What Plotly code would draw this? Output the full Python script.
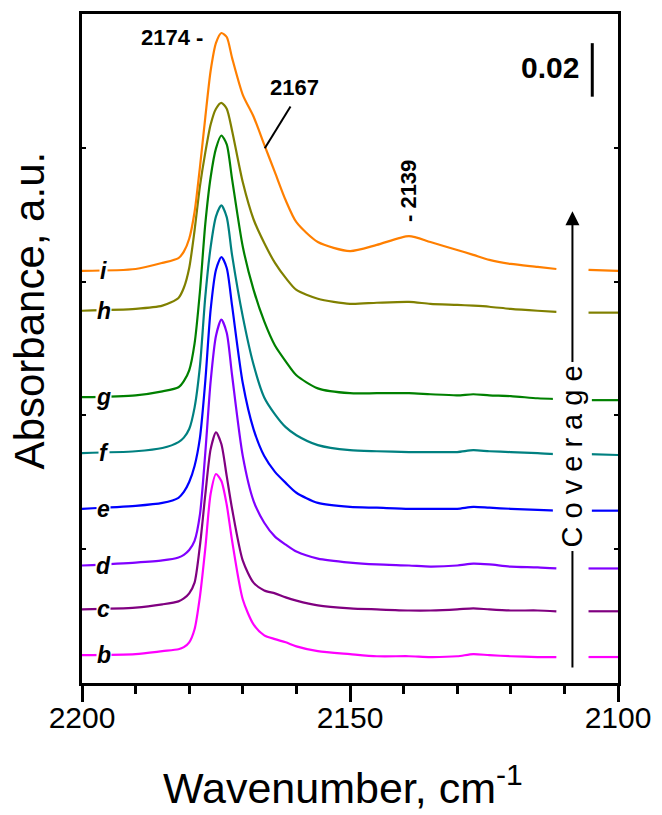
import plotly.graph_objects as go

# Wavenumber grid (cm-1); the region between 2111.5 and 2105.5 is left blank
wavenumber = [2200, 2190, 2185, 2182, 2181, 2180, 2179, 2178, 2177, 2176, 2175,
              2174, 2173, 2172, 2170, 2168, 2166, 2164, 2162, 2160, 2156, 2150,
              2145, 2139, 2135, 2130, 2127, 2124, 2120, 2115, 2111.5, 2105.5, 2100]
gap_after = 31  # index where the spectra are interrupted

# Spectrum labels (increasing CO coverage b -> i) and vertical stacking offsets
labels = ["b", "c", "d", "e", "f", "g", "h", "i"]
offsets = [0.0104, 0.0275, 0.0439, 0.0651, 0.0859, 0.1068, 0.1391, 0.1540]
colors = ["#FF00FF", "#800080", "#8000FF", "#0000FF", "#008080", "#008000",
          "#808000", "#FF7F00"]

# Absorbance above the 2200 cm-1 level for each spectrum
spec_b = [0, 0.0004, 0.0015, 0.0022, 0.0030, 0.0048, 0.0097, 0.0219, 0.0398, 0.0603,
          0.0677, 0.0651, 0.0562, 0.0428, 0.0208, 0.0115, 0.0074, 0.0060, 0.0048, 0.0033,
          0.0015, 0.0004, -0.0004, -0.0004, -0.0007, -0.0004, 0.0004, 0.0, -0.0004,
          -0.0007, -0.0007, -0.0007, -0.0007]
spec_c = [0, 0.0007, 0.0019, 0.0030, 0.0041, 0.0060, 0.0100, 0.0238, 0.0428, 0.0599,
          0.0662, 0.0618, 0.0498, 0.0376, 0.0182, 0.0100, 0.0071, 0.0060, 0.0045, 0.0033,
          0.0015, 0.0004, 0.0, -0.0004, -0.0004, 0.0, 0.0004, 0.0, -0.0004,
          -0.0004, -0.0007, -0.0007, -0.0007]
spec_d = [0, 0.0011, 0.0019, 0.0030, 0.0040, 0.0058, 0.0092, 0.0190, 0.0420, 0.0688,
          0.0859, 0.0919, 0.0870, 0.0711, 0.0409, 0.0242, 0.0160, 0.0108, 0.0078, 0.0052,
          0.0026, 0.0011, 0.0004, 0.0, -0.0004, 0.0, 0.0007, 0.0004, -0.0004,
          -0.0007, -0.0011, -0.0011, -0.0011]
spec_e = [0, 0.0011, 0.0022, 0.0041, 0.0063, 0.0100, 0.0160, 0.0265, 0.0476, 0.0744,
          0.0893, 0.0941, 0.0900, 0.0759, 0.0469, 0.0298, 0.0197, 0.0138, 0.0097, 0.0060,
          0.0022, 0.0007, 0.0004, 0.0, 0.0, 0.0, 0.0007, 0.0004, 0.0,
          -0.0004, -0.0007, -0.0007, -0.0007]
spec_f = [0, 0.0007, 0.0019, 0.0041, 0.0058, 0.0090, 0.0170, 0.0324, 0.0584, 0.0770,
          0.0885, 0.0926, 0.0882, 0.0740, 0.0510, 0.0331, 0.0208, 0.0145, 0.0097, 0.0067,
          0.0030, 0.0011, 0.0007, 0.0004, 0.0004, 0.0004, 0.0011, 0.0007, 0.0004,
          0.0, -0.0004, -0.0004, -0.0007]
spec_g = [0, 0.0007, 0.0022, 0.0037, 0.0060, 0.0100, 0.0200, 0.0394, 0.0647, 0.0822,
          0.0930, 0.0978, 0.0945, 0.0815, 0.0562, 0.0402, 0.0283, 0.0193, 0.0134, 0.0082,
          0.0033, 0.0015, 0.0015, 0.0015, 0.0011, 0.0007, 0.0011, 0.0007, 0.0004,
          -0.0004, -0.0007, -0.0011, -0.0011]
spec_h = [0, 0.0007, 0.0019, 0.0048, 0.0086, 0.0160, 0.0300, 0.0465, 0.0591, 0.0696,
          0.0755, 0.0777, 0.0755, 0.0673, 0.0480, 0.0342, 0.0253, 0.0179, 0.0123, 0.0078,
          0.0045, 0.0026, 0.0030, 0.0033, 0.0026, 0.0022, 0.0019, 0.0015, 0.0007,
          0.0, -0.0004, -0.0007, -0.0007]
spec_i = [0, 0.0007, 0.0030, 0.0048, 0.0072, 0.0120, 0.0220, 0.0387, 0.0573, 0.0748,
          0.0852, 0.0889, 0.0874, 0.0796, 0.0658, 0.0577, 0.0472, 0.0368, 0.0264, 0.0182,
          0.0108, 0.0074, 0.0097, 0.0130, 0.0108, 0.0078, 0.0060, 0.0041, 0.0026,
          0.0015, 0.0007, 0.0004, 0.0]
spectra = [spec_b, spec_c, spec_d, spec_e, spec_f, spec_g, spec_h, spec_i]

# Band positions marked on the top spectrum
band_main, band_shoulder, band_weak = 2174, 2167, 2139
scale_bar = 0.02

FONT = "Arial, 'Liberation Sans', sans-serif"

fig = go.Figure()

x_plot = wavenumber[:gap_after] + [None] + wavenumber[gap_after:]
for lab, off, col, spec in zip(labels, offsets, colors, spectra):
    y = [v + off for v in spec]
    y_plot = y[:gap_after] + [None] + y[gap_after:]
    fig.add_trace(go.Scatter(
        x=x_plot, y=y_plot, mode="lines", name=lab,
        line=dict(color=col, width=2.2, shape="spline", smoothing=0.7),
        connectgaps=False, showlegend=False, hoverinfo="skip",
    ))

annotations = []
# curve letters sitting on each baseline
for lab, off in zip(labels, offsets):
    annotations.append(dict(
        x=2195.9, y=off, xref="x", yref="y", text=f"<b><i>{lab}</i></b>",
        showarrow=False, font=dict(family=FONT, size=23, color="black"),
        bgcolor="white", borderpad=0, xanchor="center", yanchor="middle"))

annotations += [
    dict(x=band_main + 3.0, y=0.2411, xref="x", yref="y", text=f"<b>{band_main} -</b>",
         showarrow=False, xanchor="right", yanchor="middle",
         font=dict(family=FONT, size=22, color="black")),
    dict(x=band_shoulder - 6.6, y=0.2225, xref="x", yref="y", text=f"<b>{band_shoulder}</b>",
         showarrow=False, xanchor="center", yanchor="middle",
         font=dict(family=FONT, size=22, color="black")),
    dict(x=band_weak + 0.2, y=0.1838, xref="x", yref="y", text=f"<b>- {band_weak}</b>",
         showarrow=False, textangle=-90, xanchor="center", yanchor="middle",
         font=dict(family=FONT, size=22, color="black")),
    dict(x=2112.7, y=0.2299, xref="x", yref="y", text=f"<b>{scale_bar}</b>",
         showarrow=False, xanchor="center", yanchor="middle",
         font=dict(family=FONT, size=30, color="black")),
    # coverage arrow
    dict(x=2108.5, y=0.1763, ax=2108.5, ay=0.0052, xref="x", yref="y",
         axref="x", ayref="y", text="", showarrow=True, arrowhead=2,
         arrowsize=1.4, arrowwidth=2, arrowcolor="black"),
    dict(x=2108.5, y=0.0848, xref="x", yref="y", text="C o v e r a g e",
         showarrow=False, textangle=-90, xanchor="center", yanchor="middle",
         bgcolor="white", borderpad=3,
         font=dict(family=FONT, size=29, color="black")),
    # axis titles
    dict(x=-0.0976, y=0.5565, xref="paper", yref="paper", text="Absorbance, a.u.",
         showarrow=False, textangle=-90, xanchor="center", yanchor="middle",
         font=dict(family=FONT, size=42, color="black")),
    dict(x=0.1473, y=-0.152, xref="paper", yref="paper",
         text="Wavenumber, cm<sup>-1</sup>", showarrow=False,
         xanchor="left", yanchor="middle",
         font=dict(family=FONT, size=43, color="black")),
]

shapes = [
    # leader line to the 2167 shoulder
    dict(type="line", xref="x", yref="y", x0=2161.1, y0=0.2154, x1=2165.9, y1=0.1998,
         line=dict(color="black", width=2)),
    # absorbance scale bar
    dict(type="line", xref="x", yref="y", x0=2104.8, x1=2104.8, y0=0.2191,
         y1=0.2191 + scale_bar, line=dict(color="black", width=3)),
]

fig.update_layout(
    width=662, height=815,
    margin=dict(l=82, r=37, t=11, b=132),
    plot_bgcolor="white", paper_bgcolor="white",
    font=dict(family=FONT, color="black"),
    annotations=annotations, shapes=shapes,
    xaxis=dict(
        range=[2200, 2100], tickvals=[2200, 2150, 2100],
        ticks="outside", ticklen=16, tickwidth=2.5, tickcolor="black",
        ticklabelstandoff=-10,
        showline=True, linewidth=3, linecolor="black", mirror=True,
        showgrid=False, zeroline=False,
        tickfont=dict(family=FONT, size=30, color="black"),
        minor=dict(dtick=10, ticks="outside", ticklen=8, tickwidth=2.5,
                   tickcolor="black", showgrid=False),
    ),
    yaxis=dict(
        range=[0, 0.25], dtick=0.05, ticks="inside", ticklen=4, tickwidth=2,
        tickcolor="black", showticklabels=False,
        showline=True, linewidth=3, linecolor="black", mirror="ticks",
        showgrid=False, zeroline=False,
    ),
)

fig.write_html("out.html")
